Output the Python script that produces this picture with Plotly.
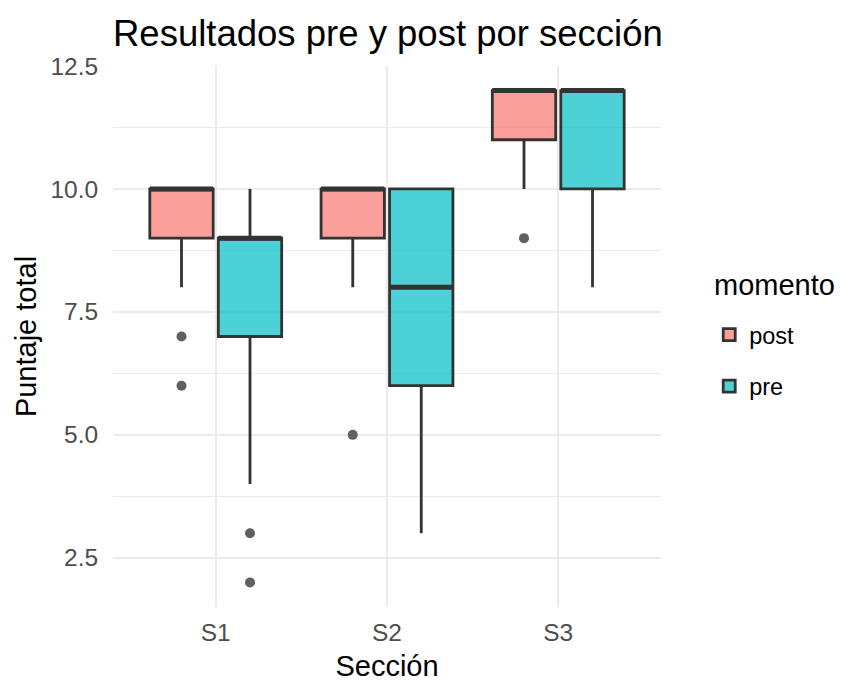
import plotly.graph_objects as go

# ---- data ----
sections = ["S1", "S2", "S3"]
moments = ["post", "pre"]

post_q1 = [9, 9, 11]
post_median = [10, 10, 12]
post_q3 = [10, 10, 12]
post_lower = [8, 8, 10]
post_upper = [10, 10, 12]

pre_q1 = [7, 6, 10]
pre_median = [9, 8, 12]
pre_q3 = [9, 10, 12]
pre_lower = [4, 3, 8]
pre_upper = [10, 10, 12]

post_outlier_section = ["S1", "S1", "S2", "S3"]
post_outlier_value = [7, 6, 5, 9]
pre_outlier_section = ["S1", "S1"]
pre_outlier_value = [3, 2]

y_ticks = [2.5, 5.0, 7.5, 10.0, 12.5]

# ---- style ----
FONT = "Liberation Sans, Arial, sans-serif"
LINE = "#333333"
GRID = "#EBEBEB"
FILLS = {"post": "rgba(248,118,109,0.7)", "pre": "rgba(0,191,196,0.7)"}
DODGE = 0.4          # distance between dodged box centres
BOX_W = 0.37

stats = {
    "post": dict(q1=post_q1, median=post_median, q3=post_q3, lo=post_lower, hi=post_upper,
                 out_s=post_outlier_section, out_v=post_outlier_value),
    "pre": dict(q1=pre_q1, median=pre_median, q3=pre_q3, lo=pre_lower, hi=pre_upper,
                out_s=pre_outlier_section, out_v=pre_outlier_value),
}

sec_index = {s: i for i, s in enumerate(sections)}

fig = go.Figure()
for k, m in enumerate(moments):
    st = stats[m]
    shift = (k - (len(moments) - 1) / 2) * DODGE
    xs = [sec_index[s] + shift for s in sections]
    fig.add_trace(go.Box(
        name=m, x=xs, q1=st["q1"], median=st["median"], q3=st["q3"],
        lowerfence=st["lo"], upperfence=st["hi"],
        width=BOX_W, whiskerwidth=0, fillcolor=FILLS[m],
        line=dict(color=LINE, width=2.8), boxpoints=False,
        legendgroup=m, showlegend=True, hoverinfo="skip",
    ))
    # thicker median line (ggplot fatten = 2)
    fig.add_trace(go.Box(
        name=m, x=xs, q1=st["median"], median=st["median"], q3=st["median"],
        lowerfence=st["median"], upperfence=st["median"],
        width=BOX_W, whiskerwidth=0, fillcolor="rgba(0,0,0,0)",
        line=dict(color=LINE, width=5), boxpoints=False,
        legendgroup=m, showlegend=False, hoverinfo="skip",
    ))
    fig.add_trace(go.Scatter(
        x=[sec_index[s] + shift for s in st["out_s"]], y=st["out_v"],
        mode="markers", marker=dict(color="#606060", size=10, line=dict(width=0)),
        legendgroup=m, showlegend=False, hoverinfo="skip",
    ))

fig.update_layout(
    width=841, height=682,
    margin=dict(l=113, r=180, t=66, b=75, autoexpand=False),
    paper_bgcolor="white", plot_bgcolor="white",
    font=dict(family=FONT, color="black"),
    title=dict(text="Resultados pre y post por sección", font=dict(size=36.5, color="black"),
               x=0, xref="paper", xanchor="left", y=1 - 33 / 682, yref="container",
               yanchor="middle"),
    showlegend=True,
    legend=dict(font=dict(size=23.5), x=1.088, xanchor="left", y=0.455, yanchor="middle",
                tracegroupgap=18, bgcolor="rgba(0,0,0,0)"),
    annotations=[dict(text="momento", xref="paper", yref="paper", x=1.093, y=0.595,
                      xanchor="left", yanchor="middle", showarrow=False,
                      font=dict(size=29, color="black"))],
    xaxis=dict(
        range=[-0.6, len(sections) - 0.4], tickmode="array",
        tickvals=list(range(len(sections))), ticktext=sections,
        showgrid=True, gridcolor=GRID, gridwidth=2.2, zeroline=False, showline=False,
        ticks="outside", ticklen=4, tickcolor="rgba(0,0,0,0)",
        tickfont=dict(size=24.5, color="#4D4D4D"), automargin=False,
        title=dict(text="Sección", font=dict(size=29, color="black"), standoff=14),
    ),
    yaxis=dict(
        range=[1.5, 12.5], tickmode="array", tickvals=y_ticks,
        ticktext=[f"{v:.1f}" for v in y_ticks],
        showgrid=True, gridcolor=GRID, gridwidth=2.2, zeroline=False, showline=False,
        minor=dict(tickmode="array", tickvals=[3.75, 6.25, 8.75, 11.25],
                   showgrid=True, gridcolor=GRID, gridwidth=1.2, ticks=""),
        ticks="outside", ticklen=9, tickcolor="rgba(0,0,0,0)",
        tickfont=dict(size=24.5, color="#4D4D4D"), automargin=False,
        title=dict(text="Puntaje total", font=dict(size=29, color="black"), standoff=5),
    ),
)

fig.write_html("out.html", config={"displayModeBar": False},
               post_script="document.body.style.margin='0px';")
